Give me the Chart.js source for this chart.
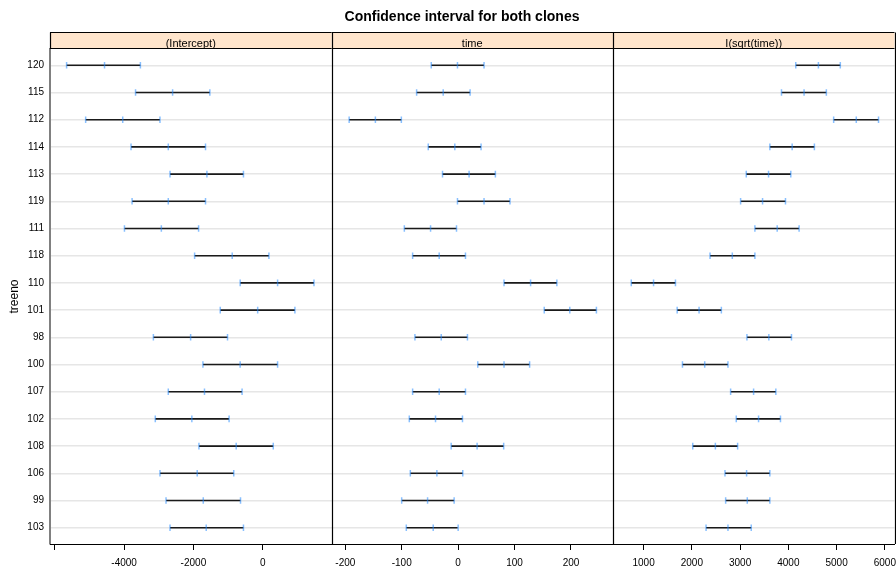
<!DOCTYPE html>
<html>
<head>
<meta charset="utf-8">
<title>Confidence interval for both clones</title>
<script src="https://cdn.jsdelivr.net/npm/chart.js@4/dist/chart.umd.min.js"></script>
<style>
  html, body { margin: 0; padding: 0; background: #fff; overflow: hidden; }
  #wrap { position: relative; width: 900px; height: 573px; }
  canvas { display: block; }
</style>
</head>
<body>
<div id="wrap"><canvas id="chart" width="900" height="573"></canvas></div>
<script>
// Tree numbers, listed top to bottom
const treeNos = ['120', '115', '112', '114', '113', '119', '111', '118', '110',
                 '101', '98', '100', '107', '102', '108', '106', '99', '103'];

// (Intercept): lower bound, estimate, upper bound
const interceptLower = [-5660, -3670, -5110, -3800, -2675, -3770, -3990, -1965, -650,
                        -1225, -3155, -1725, -2725, -3100, -1840, -2965, -2790, -2675];
const interceptEst   = [-4565, -2600, -4040, -2725, -1610, -2725, -2925, -880, 430,
                        -145, -2080, -650, -1680, -2045, -765, -1890, -1715, -1630];
const interceptUpper = [-3530, -1525, -2965, -1650, -555, -1650, -1850, 180, 1480,
                        930, -1015, 430, -595, -970, 305, -835, -640, -555];

// time
const timeLower = [-47.7, -73.6, -193.2, -53.0, -27.7, -1.2, -95.4, -80.7, 81.3,
                   152.6, -76.6, 34.8, -80.7, -86.6, -12.4, -84.8, -100.1, -91.9];
const timeEst   = [-1.2, -26.5, -146.7, -5.9, 19.4, 45.9, -48.9, -33.6, 128.4,
                   197.9, -30.0, 81.3, -33.6, -40.1, 33.6, -37.7, -54.2, -44.2];
const timeUpper = [45.9, 21.2, -100.7, 40.6, 66.0, 91.9, -2.9, 13.0, 175.0,
                   245.1, 16.5, 126.7, 13.0, 7.7, 80.7, 8.2, -7.1, 0.0];

// I(sqrt(time))
const sqrtLower = [4154, 3858, 4939, 3617, 3128, 3011, 3307, 2377, 745,
                   1696, 3142, 1806, 2804, 2921, 2019, 2687, 2701, 2295];
const sqrtEst   = [4623, 4326, 5408, 4079, 3590, 3466, 3769, 2839, 1207,
                   2150, 3596, 2267, 3280, 3383, 2488, 3135, 3149, 2749];
const sqrtUpper = [5077, 4788, 5869, 4540, 4051, 3941, 4223, 3307, 1661,
                   2612, 4065, 2749, 3741, 3837, 2949, 3617, 3617, 3231];

// Panel titles and tick values per panel
const panelTitles = ['(Intercept)', 'time', 'I(sqrt(time))'];
const interceptTicks = [-6000, -4000, -2000, 0];
const interceptTickLabels = ['', '-4000', '-2000', '0'];
const timeTicks = [-200, -100, 0, 100, 200];
const timeTickLabels = ['-200', '-100', '0', '100', '200'];
const sqrtTicks = [1000, 2000, 3000, 4000, 5000, 6000];
const sqrtTickLabels = ['1000', '2000', '3000', '4000', '5000', '6000'];

const FONT = "'Liberation Sans', Arial, Helvetica, sans-serif";
Chart.defaults.font.family = FONT;
Chart.defaults.color = '#000';

const n = treeNos.length;
// first row sits at the top of the panel
const rowY = i => n - i;

const panels = [
  { id: 'x0', lower: interceptLower, est: interceptEst, upper: interceptUpper,
    min: -6139, max: 1986, ticks: interceptTicks, labels: interceptTickLabels },
  { id: 'x1', lower: timeLower, est: timeEst, upper: timeUpper,
    min: -224.5, max: 274.5, ticks: timeTicks, labels: timeTickLabels },
  { id: 'x2', lower: sqrtLower, est: sqrtEst, upper: sqrtUpper,
    min: 366.5, max: 6200, ticks: sqrtTicks, labels: sqrtTickLabels }
];

const datasets = [];
panels.forEach(p => {
  // interval segment
  datasets.push({
    type: 'bar',
    indexAxis: 'y',
    xAxisID: p.id,
    yAxisID: 'y',
    grouped: false,
    maxBarThickness: 1.6,
    backgroundColor: '#1a1a1a',
    borderWidth: 0,
    order: 2,
    data: treeNos.map((t, i) => ({ y: rowY(i), x: [p.lower[i], p.upper[i]] }))
  });
  // short vertical marks at lower bound, estimate and upper bound
  const marks = [];
  treeNos.forEach((t, i) => {
    marks.push({ x: p.lower[i], y: rowY(i) });
    marks.push({ x: p.est[i], y: rowY(i) });
    marks.push({ x: p.upper[i], y: rowY(i) });
  });
  datasets.push({
    type: 'scatter',
    xAxisID: p.id,
    yAxisID: 'y',
    pointStyle: 'line',
    rotation: 90,
    radius: 3.3,
    borderWidth: 1.5,
    borderColor: 'rgba(40,140,255,0.55)',
    backgroundColor: 'rgba(40,140,255,0.55)',
    order: 1,
    data: marks
  });
});

const scales = {
  y: {
    type: 'linear',
    position: 'left',
    min: 0.4,
    max: n + 0.6,
    offset: false,
    afterBuildTicks: s => { s.ticks = treeNos.map((t, i) => ({ value: rowY(i) })); },
    afterFit: s => { s.width = 50; s.paddingTop = 0; s.paddingBottom = 0; },
    ticks: {
      padding: 6,
      font: { size: 10 },
      color: '#000',
      callback: v => treeNos[n - v]
    },
    grid: { color: '#e6e6e6', lineWidth: 1.5, drawTicks: false, offset: false },
    border: { color: '#808080', width: 2 },
    title: { display: true, text: 'treeno', font: { size: 12 }, color: '#000', padding: { top: 7 } }
  }
};
panels.forEach(p => {
  scales[p.id] = {
    type: 'linear',
    position: 'bottom',
    stack: 'panels',
    stackWeight: 1,
    min: p.min,
    max: p.max,
    offset: false,
    afterBuildTicks: s => { s.ticks = p.ticks.map(v => ({ value: v })); },
    afterFit: s => { s.height = 29; s.paddingLeft = 0; s.paddingRight = 0; },
    ticks: {
      autoSkip: false,
      maxRotation: 0,
      padding: 7,
      font: { size: 10 },
      color: '#000',
      callback: v => p.labels[p.ticks.indexOf(v)]
    },
    grid: { display: true, offset: false, drawOnChartArea: false, drawTicks: true, tickLength: 6, color: '#000', lineWidth: 1 },
    border: { color: '#000', width: 1 }
  };
});

// strips, panel separators and main title
const panelDecor = {
  id: 'panelDecor',
  afterDraw(chart) {
    const ctx = chart.ctx;
    const area = chart.chartArea;
    const stripTop = 32.5;
    const stripBottom = area.top - 0.5;
    ctx.save();
    panels.forEach((p, k) => {
      const s = chart.scales[p.id];
      ctx.fillStyle = '#ffe5cc';
      ctx.fillRect(s.left, stripTop, s.right - s.left, stripBottom - stripTop);
      ctx.strokeStyle = '#000';
      ctx.lineWidth = 1;
      ctx.beginPath();
      ctx.moveTo(s.left, stripTop);
      ctx.lineTo(s.right, stripTop);
      ctx.moveTo(s.left, stripBottom);
      ctx.lineTo(s.right, stripBottom);
      ctx.stroke();
      ctx.fillStyle = '#000';
      ctx.font = '11px ' + FONT;
      ctx.textAlign = 'center';
      ctx.textBaseline = 'alphabetic';
      ctx.fillText(panelTitles[k], (s.left + s.right) / 2, 46.5);
    });
    // vertical borders
    ctx.strokeStyle = '#000';
    ctx.lineWidth = 1.2;
    ctx.beginPath();
    const first = chart.scales[panels[0].id];
    ctx.moveTo(Math.round(first.left) + 0.5, stripTop);
    ctx.lineTo(Math.round(first.left) + 0.5, area.top);
    panels.forEach(p => {
      const x = Math.round(chart.scales[p.id].right) + 0.5;
      ctx.moveTo(x, stripTop);
      ctx.lineTo(x, area.bottom);
    });
    ctx.stroke();
    // main title
    ctx.fillStyle = '#000';
    ctx.font = 'bold 14px ' + FONT;
    ctx.textAlign = 'center';
    ctx.textBaseline = 'alphabetic';
    ctx.fillText('Confidence interval for both clones', 462, 20.5);
    ctx.restore();
  }
};

new Chart(document.getElementById('chart'), {
  type: 'scatter',
  data: { datasets },
  options: {
    responsive: false,
    animation: false,
    events: [],
    layout: { padding: { top: 49, left: 0, right: 3, bottom: 0 } },
    plugins: { legend: { display: false }, tooltip: { enabled: false }, title: { display: false } },
    scales
  },
  plugins: [panelDecor]
});
</script>
</body>
</html>
